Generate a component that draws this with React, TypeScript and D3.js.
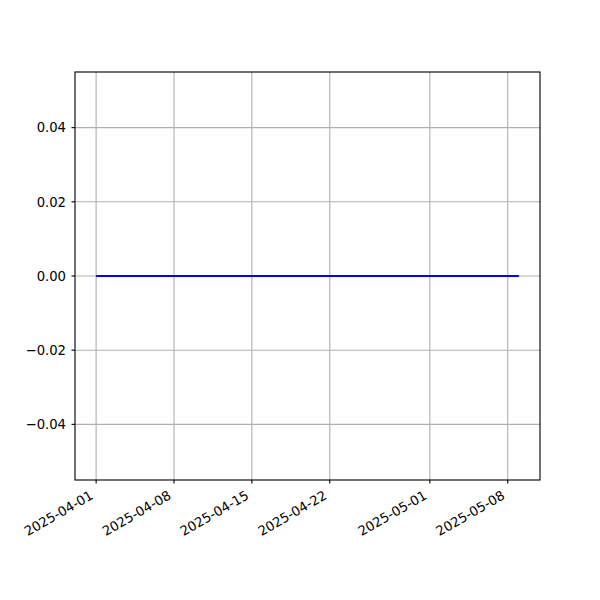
import React from "react";
import * as d3 from "d3";

const dates: string[] = [
  "2025-04-01", "2025-04-02", "2025-04-03", "2025-04-04", "2025-04-05", "2025-04-06", "2025-04-07",
  "2025-04-08", "2025-04-09", "2025-04-10", "2025-04-11", "2025-04-12", "2025-04-13", "2025-04-14",
  "2025-04-15", "2025-04-16", "2025-04-17", "2025-04-18", "2025-04-19", "2025-04-20", "2025-04-21",
  "2025-04-22", "2025-04-23", "2025-04-24", "2025-04-25", "2025-04-26", "2025-04-27", "2025-04-28",
  "2025-04-29", "2025-04-30", "2025-05-01", "2025-05-02", "2025-05-03", "2025-05-04", "2025-05-05",
  "2025-05-06", "2025-05-07", "2025-05-08", "2025-05-09",
];
const values: number[] = [
  0, 0, 0, 0, 0, 0, 0,
  0, 0, 0, 0, 0, 0, 0,
  0, 0, 0, 0, 0, 0, 0,
  0, 0, 0, 0, 0, 0, 0,
  0, 0, 0, 0, 0, 0, 0,
  0, 0, 0, 0,
];
const xTickLabels: string[] = ["2025-04-01", "2025-04-08", "2025-04-15", "2025-04-22", "2025-05-01", "2025-05-08"];
const yTicks: number[] = [-0.04, -0.02, 0, 0.02, 0.04];
const yDomain: [number, number] = [-0.055, 0.055];

const W = 600, H = 600;
const L = 75, R = 540, T = 72, B = 480;
const FONT = "DejaVu Sans, sans-serif";
const FS = 13.2;

export default function App() {
  const parse = d3.utcParse("%Y-%m-%d");
  const pts = dates.map((d, i) => ({ t: parse(d) as Date, v: values[i] }));
  const ext = d3.extent(pts, (p) => +p.t) as [number, number];
  const pad = (ext[1] - ext[0]) * 0.05;
  const x = d3.scaleUtc().domain([new Date(ext[0] - pad), new Date(ext[1] + pad)]).range([L, R]);
  const y = d3.scaleLinear().domain(yDomain).range([B, T]);
  const line = d3.line<{ t: Date; v: number }>().x((p) => x(p.t)).y((p) => y(p.v));
  const fmtY = (v: number) => {
    const s = Math.abs(v).toFixed(2);
    return v < -1e-12 ? "\u2212" + s : s;
  };
  const grid = "#b0b0b0";
  const lw = 1.11;
  return (
    <svg width={W} height={H} style={{ position: "absolute", left: 0, top: 0, background: "#fff" }}>
      <rect x={0} y={0} width={W} height={H} fill="#fff" />
      <g>
        {xTickLabels.map((lab) => {
          const xx = x(parse(lab) as Date);
          return <line key={"gx" + lab} x1={xx} x2={xx} y1={T} y2={B} stroke={grid} strokeWidth={lw} />;
        })}
        {yTicks.map((v) => (
          <line key={"gy" + v} x1={L} x2={R} y1={y(v)} y2={y(v)} stroke={grid} strokeWidth={lw} />
        ))}
      </g>
      <path d={line(pts) || ""} fill="none" stroke="#0000ff" strokeWidth={2.08} />
      <rect x={L} y={T} width={R - L} height={B - T} fill="none" stroke="#000" strokeWidth={lw} />
      {xTickLabels.map((lab) => {
        const xx = x(parse(lab) as Date);
        return (
          <g key={"xt" + lab}>
            <line x1={xx} x2={xx} y1={B} y2={B + 3.5} stroke="#000" strokeWidth={lw} />
            <text
              transform={`translate(${xx - 2},${498}) rotate(-30)`}
              textAnchor="end"
              fontFamily={FONT}
              fontSize={FS}
              fill="#000"
            >
              {lab}
            </text>
          </g>
        );
      })}
      {yTicks.map((v) => (
        <g key={"yt" + v}>
          <line x1={L - 3.5} x2={L} y1={y(v)} y2={y(v)} stroke="#000" strokeWidth={lw} />
          <text x={L - 9} y={y(v)} dy="0.36em" textAnchor="end" fontFamily={FONT} fontSize={FS} fill="#000">
            {fmtY(v)}
          </text>
        </g>
      ))}
    </svg>
  );
}
